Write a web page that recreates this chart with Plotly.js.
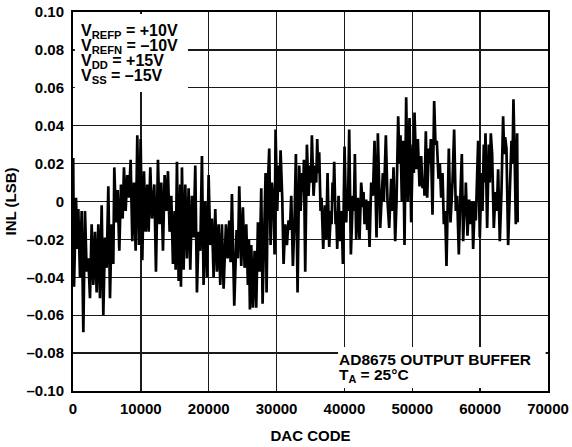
<!DOCTYPE html>
<html>
<head>
<meta charset="utf-8">
<script src="https://cdn.plot.ly/plotly-3.0.1.min.js"></script>
<style>html,body{margin:0;padding:0;background:#fff;}#chart{width:572px;height:447px;}</style>
</head>
<body>
<div id="chart"></div>
<script>
// DAC code (x) and INL in LSB (y)
const dacCode = [0,30,150,442,638,786,1031,1277,1522,1768,2013,2259,2504,2750,2995,3241,3486,3732,3977,4223,4468,4714,4959,5205,5450,5696,5941,6088,6334,6579,6825,7070,7316,7512,7758,8003,8249,8494,8740,8985,9231,9476,9722,9967,10213,10458,10704,10949,11146,11391,11637,11981,12226,12521,12766,13012,13257,13503,13748,13994,14239,14485,14730,14976,15123,15319,15565,15810,15909,16056,16301,16547,16792,17038,17283,17529,17774,18020,18265,18511,18756,19002,19247,19493,19738,19984,20229,20475,20720,20966,21211,21457,21702,21948,22193,22537,22783,23028,23225,23421,23765,24108,24305,24501,24796,25041,25287,25532,25778,25925,26072,26269,26514,26760,27005,27251,27496,27742,27938,28184,28380,28527,28724,28920,29117,29313,29559,29706,29853,30099,30295,30442,30590,30835,31032,31277,31523,31768,31964,32161,32406,32652,32848,33094,33339,33540,33781,33929,34027,34223,34469,34714,34911,35058,35205,35451,35696,35844,35991,36138,36285,36482,36629,36875,37120,37317,37513,37759,38004,38102,38250,38348,38495,38691,38790,38937,39133,39379,39575,39772,40017,40263,40410,40508,40704,40950,41245,41392,41539,41736,41981,42227,42472,42718,42816,42963,43209,43356,43503,43700,43945,44190,44436,44730,44926,45270,45663,45810,46105,46350,46596,46890,47038,47234,47480,47676,47921,48118,48265,48461,48658,48854,49100,49345,49591,49836,50082,50229,50327,50573,50818,51064,51309,51506,51702,51800,51997,52193,52439,52586,52733,52979,53224,53421,53617,53863,54059,54255,54452,54648,54845,55041,55188,55385,55630,55925,56170,56416,56612,56858,57103,57300,57496,57742,57815,57889,58134,58380,58625,58822,58969,59215,59362,59460,59706,59951,60197,60344,60540,60638,60786,61031,61277,61424,61571,61768,62013,62259,62455,62652,62897,63143,63388,63535,63683,63879,64125,64370,64616,64763,64910,65106,65254,65450,65535];
const inlLSB = [-0.010,0.023,-0.045,0.002,-0.025,-0.004,-0.040,-0.005,-0.069,-0.005,-0.037,-0.030,-0.051,-0.012,-0.044,-0.016,-0.048,-0.012,-0.051,-0.002,-0.060,-0.019,-0.035,0.008,-0.051,-0.012,-0.033,0.018,-0.011,0.006,-0.026,0.009,-0.009,0.018,-0.005,0.014,0.002,0.022,-0.021,0.010,-0.026,0.035,-0.023,0.033,-0.031,0.016,-0.016,0.009,-0.016,0.018,-0.009,0.009,-0.037,0.022,-0.012,0.010,-0.026,0.014,-0.005,0.016,-0.016,0.003,-0.033,-0.005,-0.036,0.021,-0.042,0.009,-0.045,0.018,-0.036,0.009,-0.030,0.007,-0.036,0.003,-0.019,0.019,-0.048,-0.016,-0.026,0.024,-0.044,0.000,-0.040,0.014,-0.023,-0.009,-0.040,-0.004,-0.037,-0.012,-0.044,-0.012,-0.046,-0.012,-0.030,-0.010,-0.032,0.004,-0.055,-0.015,-0.030,0.008,-0.034,-0.003,-0.035,-0.012,-0.044,-0.020,-0.057,-0.023,-0.056,-0.026,-0.056,-0.011,-0.037,0.007,-0.054,-0.012,0.015,-0.048,0.009,0.028,-0.023,0.010,-0.002,-0.028,0.038,-0.005,0.019,0.005,0.027,0.002,-0.033,-0.012,-0.023,-0.010,-0.015,0.003,-0.034,-0.009,0.025,-0.048,0.019,-0.005,0.015,0.005,0.022,-0.037,0.030,0.003,0.019,0.010,0.035,0.003,0.019,0.010,0.033,0.015,0.026,-0.005,0.002,-0.025,-0.002,-0.020,0.015,-0.024,-0.005,-0.012,0.010,0.000,0.021,-0.012,-0.005,-0.025,0.003,-0.021,-0.005,-0.033,0.029,-0.011,0.005,-0.005,0.038,-0.028,0.003,-0.005,0.025,-0.020,0.002,-0.020,0.010,-0.003,0.005,-0.012,0.001,-0.015,0.000,-0.024,0.010,0.003,0.032,-0.019,0.036,-0.014,0.015,0.000,0.035,0.000,-0.014,0.012,-0.005,0.018,-0.021,0.000,0.045,0.020,0.035,0.000,0.032,-0.023,0.055,0.000,0.044,-0.011,0.030,0.015,0.047,0.017,0.033,0.008,0.024,0.007,0.012,0.003,0.037,0.002,0.028,0.020,0.033,-0.007,0.053,0.030,0.032,0.012,0.020,0.002,0.015,-0.012,-0.005,-0.034,-0.010,0.028,-0.011,0.010,0.038,-0.005,0.003,-0.028,0.005,0.025,-0.021,0.003,-0.005,0.010,-0.018,0.001,-0.012,0.000,-0.025,0.000,-0.010,0.007,0.032,-0.019,0.015,-0.005,0.030,0.010,0.036,-0.014,0.030,0.010,0.036,0.025,-0.014,0.005,-0.005,0.017,-0.021,0.005,0.045,0.025,0.034,0.028,-0.023,0.005,0.032,0.020,0.054,0.020,-0.012,0.036,-0.011];

const xTickVals = [0,10000,20000,30000,40000,50000,60000,70000];
const xTickText = ["0","10000","20000","30000","40000","50000","60000","70000"];
const yTickVals = [-0.10,-0.08,-0.06,-0.04,-0.02,0,0.02,0.04,0.06,0.08,0.10];
const yTickText = ["\u20130.10","\u20130.08","\u20130.06","\u20130.04","\u20130.02","0","0.02","0.04","0.06","0.08","0.10"];

const condLines = ["V<sub>REFP</sub> = +10V", "V<sub>REFN</sub> = \u201310V", "V<sub>DD</sub> = +15V", "V<sub>SS</sub> = \u201315V"];
const bufLines = ["AD8675 OUTPUT BUFFER", "T<sub>A</sub> = 25\u00B0C"];

const FONT = "Liberation Sans, Arial, Helvetica, sans-serif";
const boldFont = (s) => ({family: FONT, size: s, color: "#000", weight: "bold"});

const trace = {
  type: "scatter", mode: "lines",
  x: dacCode, y: inlLSB,
  line: {color: "#000", width: 2.7},
  hoverinfo: "skip"
};

const axisCommon = {
  showgrid: true, gridcolor: "#1a1a1a", gridwidth: 1.3,
  showline: true, linecolor: "#000", linewidth: 2, mirror: true,
  zeroline: false, ticks: "", automargin: false,
  tickfont: boldFont(15)
};

const condY = [0.9486, 0.9090, 0.8707, 0.8311];
const bufY = [0.0830, 0.0420];
const annotations = [];
condLines.forEach((t, i) => annotations.push({
  xref: "paper", yref: "paper", x: 0.012, y: condY[i], xanchor: "left", yanchor: "middle",
  align: "left", showarrow: false, text: t, font: boldFont(16)
}));
bufLines.forEach((t, i) => annotations.push({
  xref: "paper", yref: "paper", x: 0.556, y: bufY[i], xanchor: "left", yanchor: "middle",
  align: "left", showarrow: false, text: t, font: boldFont(15.5)
}));

const layout = {
  width: 572, height: 447,
  margin: {l: 73, r: 24, t: 12, b: 56},
  paper_bgcolor: "#fff", plot_bgcolor: "#fff",
  showlegend: false,
  font: {family: FONT, color: "#000"},
  xaxis: Object.assign({}, axisCommon, {
    range: [0, 70000], tickmode: "array", tickvals: xTickVals, ticktext: xTickText,
    ticklabelstandoff: 3,
    title: {text: "DAC CODE", font: boldFont(15), standoff: 14}
  }),
  yaxis: Object.assign({}, axisCommon, {
    range: [-0.10, 0.10], tickmode: "array", tickvals: yTickVals, ticktext: yTickText,
    ticklabelstandoff: 4,
    title: {text: "INL (LSB)", font: boldFont(15), standoff: 6}
  }),
  shapes: [
    {type: "rect", xref: "paper", yref: "paper", x0: 0.004, x1: 0.242, y0: 0.789, y1: 0.995, fillcolor: "#fff", line: {width: 0}, layer: "above"},
    {type: "rect", xref: "paper", yref: "paper", x0: 0.558, x1: 0.995, y0: 0.008, y1: 0.116, fillcolor: "#fff", line: {width: 0}, layer: "above"}
  ],
  annotations: annotations
};

Plotly.newPlot("chart", [trace], layout, {staticPlot: true, displayModeBar: false});
</script>
</body>
</html>
